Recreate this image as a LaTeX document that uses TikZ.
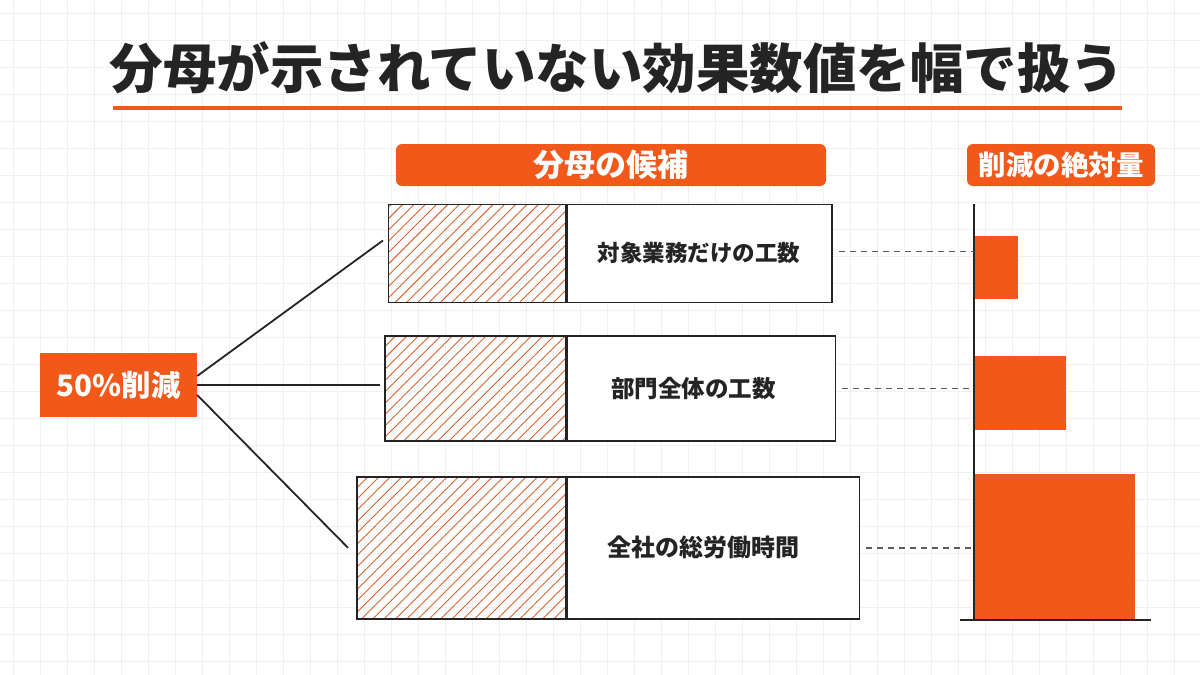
\documentclass[tikz,border=0pt]{standalone}
\usepackage{fontspec}
\setmainfont{Noto Sans CJK JP}
\usepackage{tikz}
\usetikzlibrary{positioning, patterns.meta, calc}

\definecolor{accent}{HTML}{F2581A}
\definecolor{ink}{HTML}{242424}
\definecolor{gridgray}{HTML}{F0F0F0}
\definecolor{hatchcol}{HTML}{D9632E}

\newcommand{\fsz}[1]{\fontsize{#1}{#1}\selectfont}

\begin{document}
\begin{tikzpicture}[x=1pt,y=-1pt,
  hatchbox/.style={draw=ink, line width=1.6pt, inner sep=0pt, anchor=north west,
    pattern={Lines[angle=45,distance=8pt,line width=0.9pt]}, pattern color=hatchcol},
  labelbox/.style={draw=ink, line width=1.6pt, fill=white, inner sep=0pt, text=ink},
  headbox/.style={fill=accent, rounded corners=6pt, inner sep=0pt, minimum height=42pt,
    text=white},
  bar/.style={fill=accent, inner sep=0pt, anchor=north west},
  link/.style={draw=ink, line width=1.8pt},
  guide/.style={draw=ink!75, line width=1.5pt, dash pattern=on 6pt off 5pt}]

  \useasboundingbox (0,0) rectangle (1200,675);
  \fill[white] (0,0) rectangle (1200,675);
  \foreach \gx in {13,40,...,1200} \draw[gridgray, line width=0.8pt] (\gx,0) -- (\gx,675);
  \foreach \gy in {13,40,...,675} \draw[gridgray, line width=0.8pt] (0,\gy) -- (1200,\gy);

  % ---------- titulo ----------
  \node[font=\fsz{53.5}\bfseries, text=ink] (title) at (617,68) {分母が示されていない効果数値を幅で扱う};
  \draw[accent, line width=4pt] (113,108) -- (1122,108);

  % ---------- cabecalhos ----------
  \node[headbox, minimum width=430pt, font=\fsz{31}\bfseries] (candhead) at (611,165) {分母の候補};
  \node[headbox, minimum width=188pt, font=\fsz{27.5}\bfseries] (abshead) at (1061,165) {削減の絶対量};

  % ---------- valor de partida ----------
  \node[fill=accent, inner sep=0pt, minimum width=157pt, minimum height=64pt,
        font=\fsz{29.5}\bfseries, text=white] (pct) at (118.5,385) {50\%削減};

  % ---------- candidatos ----------
  \node[hatchbox, minimum width=177pt, minimum height=98pt] (h1) at (388,204) {};
  \node[labelbox, right=0pt of h1, minimum width=265pt, minimum height=98pt,
        font=\fsz{22.5}\bfseries] (w1) {対象業務だけの工数};

  \node[hatchbox, minimum width=181pt, minimum height=105pt] (h2) at (384,335) {};
  \node[labelbox, right=0pt of h2, minimum width=268pt, minimum height=105pt,
        font=\fsz{23.5}\bfseries] (w2) {部門全体の工数\kern16pt\null};

  \node[hatchbox, minimum width=209pt, minimum height=142pt] (h3) at (356,476) {};
  \node[labelbox, right=0pt of h3, minimum width=292pt, minimum height=142pt,
        font=\fsz{24}\bfseries] (w3) {全社の総労働時間\kern20pt\null};

  \draw[link] ([yshift=9pt]pct.east) -- ([xshift=-5pt,yshift=13pt]h1.west);
  \draw[link] (pct.east) -- ([xshift=-4pt]h2.west |- pct.east);
  \draw[link] ([yshift=-10pt]pct.east) -- ([xshift=-8pt]h3.west);

  % ---------- eixo e barras ----------
  \coordinate (axtop) at (974,204);
  \coordinate (axbot) at (974,620);
  \node[bar, minimum width=43pt, minimum height=63pt] (bar1) at (975,236) {};
  \node[bar, minimum width=91pt, minimum height=74pt] (bar2) at (975,356) {};
  \node[bar, minimum width=160pt, minimum height=146pt] (bar3) at (975,474) {};
  \draw[link] (axtop) -- (axbot);
  \draw[link] (960,620) -- (1151,620);

  \draw[guide] ([xshift=6pt,yshift=2pt]w1.east) -- ([yshift=2pt]w1.east -| axtop);
  \draw[guide] ([xshift=6pt]w2.east) -- (w2.east -| axtop);
  \draw[guide] ([xshift=6pt]w3.east) -- (w3.east -| axtop);
\end{tikzpicture}
\end{document}
